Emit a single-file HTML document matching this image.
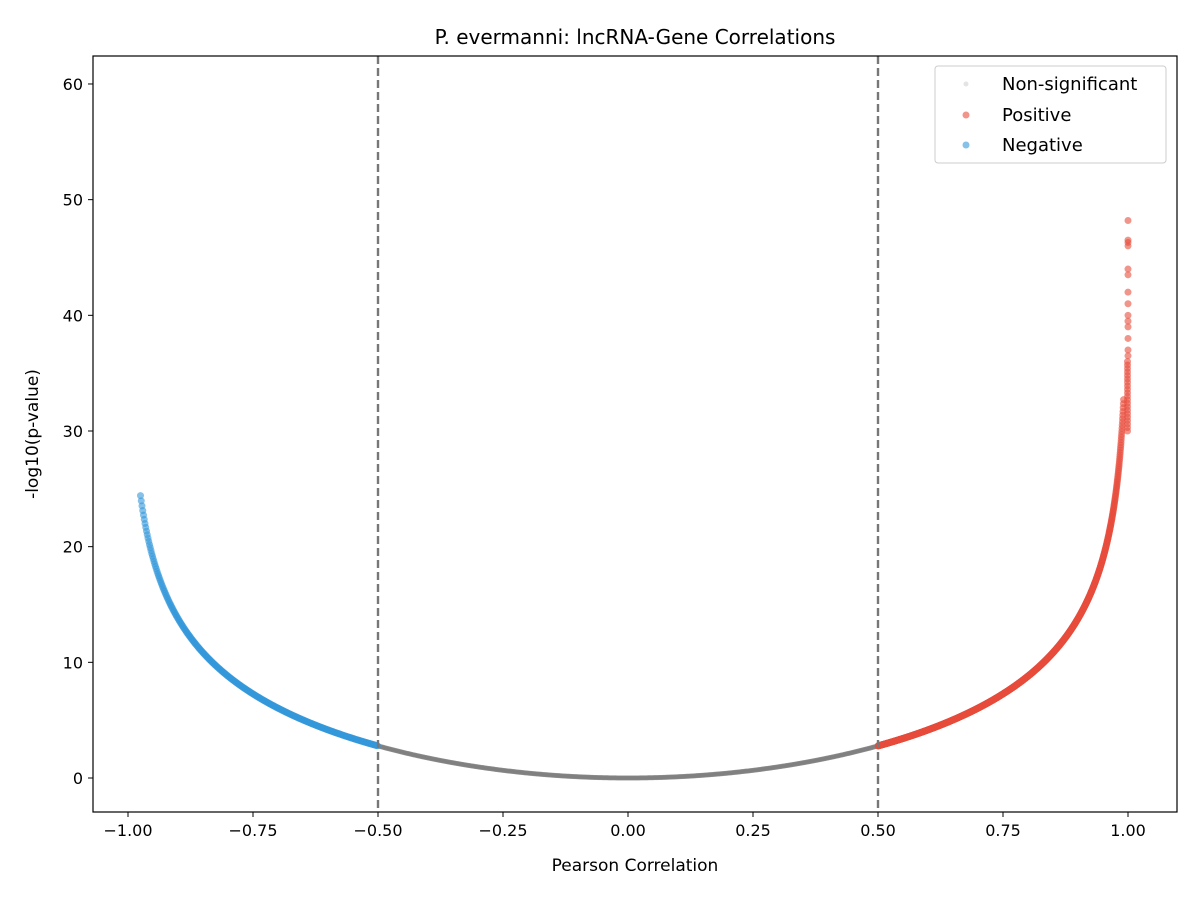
<!DOCTYPE html>
<html><head><meta charset="utf-8"><style>
body{margin:0;background:#fff;}
svg text{font-family:"DejaVu Sans","Liberation Sans",sans-serif;}
</style></head><body>
<svg id="s" width="1200" height="900" xmlns="http://www.w3.org/2000/svg">
<rect width="1200" height="900" fill="#fff"/>
<g id="pts"></g>
<line x1="378" y1="56" x2="378" y2="812" stroke="#777" stroke-width="2.4" stroke-dasharray="8,4"/>
<line x1="878" y1="56" x2="878" y2="812" stroke="#777" stroke-width="2.4" stroke-dasharray="8,4"/>
<rect x="93" y="56" width="1084" height="756" fill="none" stroke="#000" stroke-width="1.2"/>
<g id="ticks" font-size="16" fill="#000"></g>
<text x="635" y="44" font-size="20" text-anchor="middle">P. evermanni: lncRNA-Gene Correlations</text>
<text x="635" y="871" font-size="17" text-anchor="middle">Pearson Correlation</text>
<text transform="translate(38,434) rotate(-90)" font-size="17" text-anchor="middle">-log10(p-value)</text>
<rect x="935" y="66" width="231" height="97" rx="3" fill="#fff" fill-opacity="0.8" stroke="#ccc"/>
<circle cx="966" cy="84" r="2.5" fill="#bbb" fill-opacity="0.4"/>
<circle cx="966" cy="115" r="3.5" fill="#e74c3c" fill-opacity="0.6"/>
<circle cx="966" cy="145" r="3.5" fill="#3498db" fill-opacity="0.6"/>
<text x="1002" y="90" font-size="18">Non-significant</text>
<text x="1002" y="121" font-size="18">Positive</text>
<text x="1002" y="151" font-size="18">Negative</text>
</svg>
<script>
var NS="http://www.w3.org/2000/svg",g=document.getElementById("pts"),tk=document.getElementById("ticks");
function X(r){return 628+500*r}function Y(v){return 778-v*11.567}
function f(r){var q=1-r*r;return -18.6*Math.log10(q)+2.4*r*r*q;}
function cc(x,y,rad,col,op){var e=document.createElementNS(NS,"circle");e.setAttribute("cx",x);e.setAttribute("cy",y);e.setAttribute("r",rad);e.setAttribute("fill",col);e.setAttribute("fill-opacity",op);g.appendChild(e);}
function c(r,rad,col,op){cc(X(r),Y(f(r)),rad,col,op);}
for(var r=-0.5;r<=0.5;r+=0.002)c(r,2.5,"#7f7f7f",0.6);
for(var r=-0.975;r<=-0.5;r+=0.0015)c(r,3.5,"#3498db",0.6);
for(var r=0.5;r<=0.9995;r+=0.0004){if(f(r)<=33)c(r,3.5,"#e74c3c",0.6);}
for(var v=30;v<=36;v+=0.3)cc(1127.5,Y(v),3.5,"#e74c3c",0.6);
[36.5,37,38,39,39.5,40,41,42,43.5,44,46,46.3,46.5,48.2].forEach(function(v){cc(1128,Y(v),3.5,"#e74c3c",0.6);});
function L(x1,y1,x2,y2){var e=document.createElementNS(NS,"line");e.setAttribute("x1",x1);e.setAttribute("y1",y1);e.setAttribute("x2",x2);e.setAttribute("y2",y2);e.setAttribute("stroke","#000");tk.appendChild(e);}
function T(x,y,s,a){var e=document.createElementNS(NS,"text");e.setAttribute("x",x);e.setAttribute("y",y);e.setAttribute("text-anchor",a);e.textContent=s;tk.appendChild(e);}
[-1,-0.75,-0.5,-0.25,0,0.25,0.5,0.75,1].forEach(function(v){var x=X(v);L(x,812,x,817);T(x,836,(v<0?"\u2212":"")+Math.abs(v).toFixed(2),"middle");});
[0,10,20,30,40,50,60].forEach(function(v){var y=Y(v);L(88,y,93,y);T(83,y+6,String(v),"end");});
</script>
</body></html>
